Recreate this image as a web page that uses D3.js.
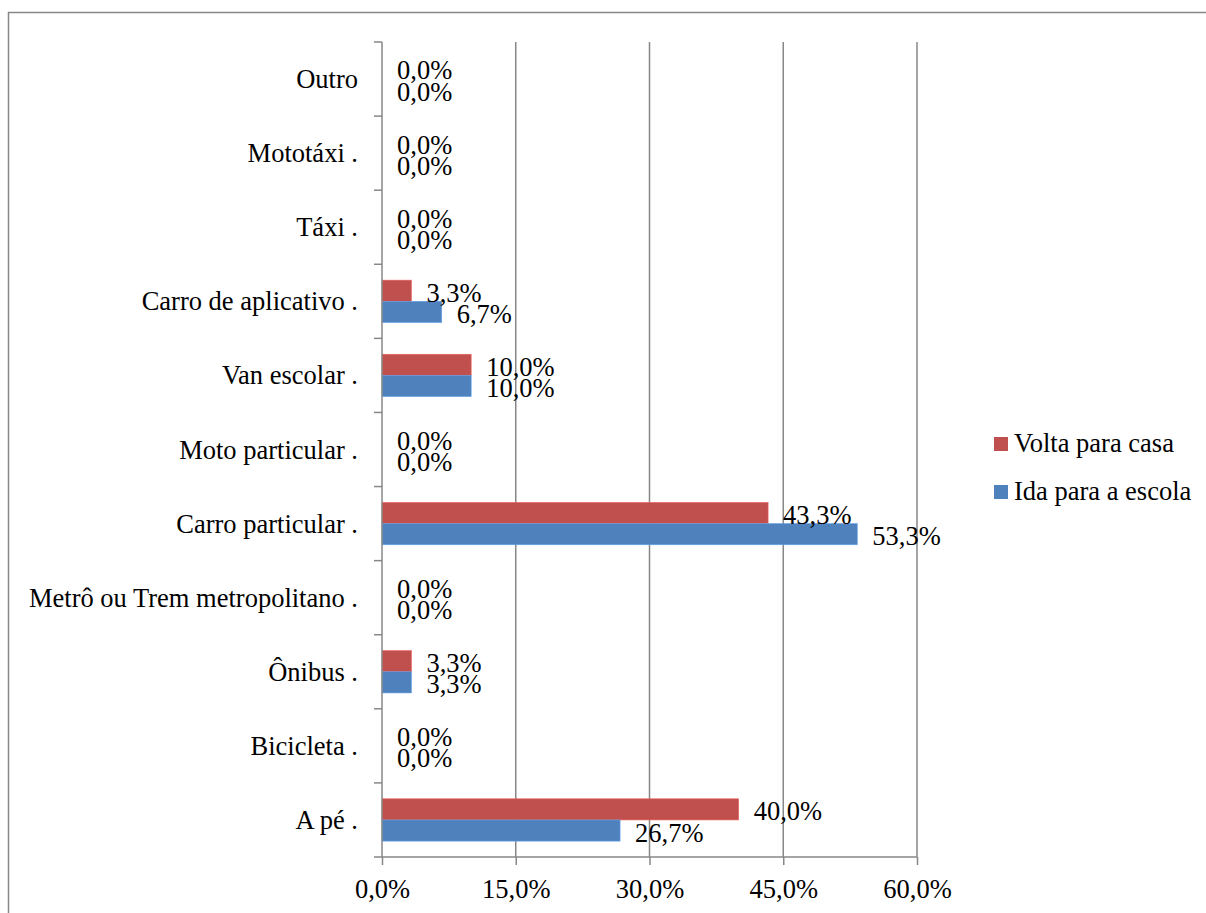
<!DOCTYPE html>
<html>
<head>
<meta charset="utf-8">
<script src="https://cdn.jsdelivr.net/npm/d3@7/dist/d3.min.js"></script>
</head>
<body style="margin:0;background:#fff">
<svg id="chart" width="1206" height="913"></svg>
<script>
// Modes of transport, listed bottom to top as they appear on the axis
const categories = [
  "A pé .", "Bicicleta .", "Ônibus .", "Metrô ou Trem metropolitano .",
  "Carro particular .", "Moto particular .", "Van escolar .",
  "Carro de aplicativo .", "Táxi .", "Mototáxi .", "Outro"
];
const seriesNames = ["Volta para casa", "Ida para a escola"];
const voltaValues = [40.0, 0.0, 3.3, 0.0, 43.3, 0.0, 10.0, 3.3, 0.0, 0.0, 0.0];
const idaValues   = [26.7, 0.0, 3.3, 0.0, 53.3, 0.0, 10.0, 6.7, 0.0, 0.0, 0.0];
const xTicks = [0, 15, 30, 45, 60];
const colors = ["#C0504D", "#4F81BD"];

const FONT = '"Liberation Serif"';
const FONT_SIZE = "26.5px";
const fmt = v => v.toFixed(1).replace(".", ",") + "%";

const svg = d3.select("#chart");
const plot = { left: 382, right: 917, top: 42, bottom: 857 };
const gridColor = "#878787";

function styleText(sel) {
  return sel.style("font-family", FONT).style("font-size", FONT_SIZE).attr("fill", "#000");
}

// Outer frame
svg.append("rect")
  .attr("x", 8.5).attr("y", 12.5)
  .attr("width", 1230).attr("height", 940)
  .attr("fill", "none").attr("stroke", gridColor).attr("stroke-width", 1.5);

const x = d3.scaleLinear().domain([0, 60]).range([plot.left, plot.right]);
const y = d3.scaleBand()
  .domain(categories.slice().reverse())
  .range([plot.top, plot.bottom])
  .padding(0);
const inner = d3.scaleBand()
  .domain(seriesNames)
  .range([0, y.bandwidth()])
  .paddingInner(0)
  .paddingOuter(0.75);

// Vertical gridlines
svg.append("g").selectAll("line")
  .data(xTicks.filter(t => t > 0))
  .join("line")
  .attr("x1", d => x(d)).attr("x2", d => x(d))
  .attr("y1", plot.top).attr("y2", plot.bottom)
  .attr("stroke", gridColor).attr("stroke-width", 1.5);

// Bars
const rows = categories.map((c, i) => ({ cat: c, vals: [voltaValues[i], idaValues[i]] }));
const groups = svg.append("g").selectAll("g")
  .data(rows)
  .join("g")
  .attr("transform", d => `translate(0,${y(d.cat)})`);

groups.selectAll("rect")
  .data(d => d.vals.map((v, k) => ({ v, s: seriesNames[k], k })))
  .join("rect")
  .attr("x", x(0))
  .attr("y", d => inner(d.s))
  .attr("width", d => x(d.v) - x(0))
  .attr("height", inner.bandwidth())
  .attr("fill", d => colors[d.k])
  .attr("stroke", d => d3.color(colors[d.k]).brighter(0.6))
  .attr("stroke-width", 0.6);

// Value labels
groups.selectAll("text")
  .data(d => d.vals.map((v, k) => ({ v, s: seriesNames[k], k })))
  .join("text")
  .attr("x", d => x(d.v) + 15)
  .attr("y", d => inner(d.s) + inner.bandwidth() / 2 + 2)
  .attr("dominant-baseline", "central")
  .call(styleText)
  .text(d => fmt(d.v));

// Category axis
const yAxis = svg.append("g")
  .attr("transform", `translate(${plot.left},0)`);
yAxis.append("line")
  .attr("x1", 0).attr("x2", 0)
  .attr("y1", plot.top).attr("y2", plot.bottom)
  .attr("stroke", gridColor).attr("stroke-width", 1.5);
const bounds = d3.range(categories.length + 1).map(i => plot.top + i * y.step());
yAxis.selectAll("line.tick")
  .data(bounds)
  .join("line")
  .attr("class", "tick")
  .attr("x1", -8).attr("x2", 0)
  .attr("y1", d => d).attr("y2", d => d)
  .attr("stroke", gridColor).attr("stroke-width", 1.5);
yAxis.selectAll("text")
  .data(categories)
  .join("text")
  .attr("x", -24)
  .attr("y", d => y(d) + y.bandwidth() / 2)
  .attr("dominant-baseline", "central")
  .attr("text-anchor", "end")
  .call(styleText)
  .text(d => d);

// Value axis
const xAxis = svg.append("g")
  .attr("transform", `translate(0,${plot.bottom})`)
  .call(d3.axisBottom(x).tickValues(xTicks).tickSize(8).tickPadding(14)
    .tickFormat(d => d.toFixed(1).replace(".", ",") + "%"));
xAxis.select(".domain").attr("stroke", gridColor).attr("stroke-width", 1.5)
  .attr("d", `M${plot.left},0H${plot.right}`);
xAxis.selectAll(".tick line").attr("stroke", gridColor).attr("stroke-width", 1.5);
xAxis.selectAll(".tick text").call(styleText);

// Legend
const legend = svg.append("g").attr("transform", "translate(994,437)");
const items = legend.selectAll("g")
  .data(seriesNames)
  .join("g")
  .attr("transform", (d, i) => `translate(0,${i * 48})`);
items.append("rect")
  .attr("width", 14).attr("height", 14)
  .attr("fill", (d, i) => colors[i]);
items.append("text")
  .attr("x", 20).attr("y", 6)
  .attr("dominant-baseline", "central")
  .call(styleText)
  .text(d => d);
</script>
</body>
</html>
